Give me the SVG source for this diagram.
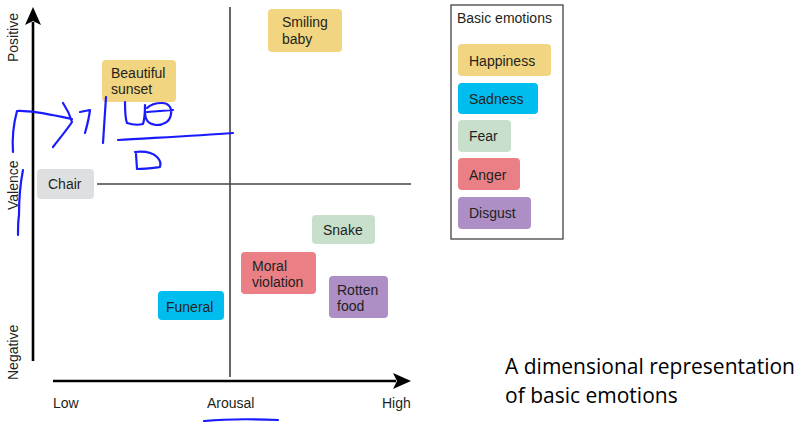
<svg xmlns="http://www.w3.org/2000/svg" width="798" height="422" viewBox="0 0 798 422">
<style>
text{font-family:"Liberation Sans",Arial,sans-serif;font-size:14px;fill:#231f20}
.cap{font-family:"Open Sans","Noto Sans",sans-serif;font-size:21px;fill:#000}
.ink{fill:none;stroke:#1a1aff;stroke-width:2.2;stroke-linecap:round;stroke-linejoin:round}
.happy{fill:#f1d580}.sad{fill:#00bdf0}.fear{fill:#c8dfcc}.anger{fill:#ea7f86}.disgust{fill:#ad8fc5}.neutral{fill:#dedfe0}
</style>
<rect width="798" height="422" fill="#fff"/>
<g id="axes">
<line x1="230" y1="7" x2="230" y2="377" stroke="#000" stroke-width="1.2"/>
<line x1="97" y1="184" x2="411" y2="184" stroke="#444" stroke-width="1.4"/>
<line x1="33" y1="361" x2="33" y2="22" stroke="#000" stroke-width="2.6"/>
<path d="M33,7 L41,25 L33,21 L25,25 Z" fill="#000"/>
<line x1="53" y1="381" x2="396" y2="381" stroke="#000" stroke-width="2.6"/>
<path d="M411,381 L393,373 L397,381 L393,389 Z" fill="#000"/>
<text transform="translate(18,62) rotate(-90)">Positive</text>
<text transform="translate(18,210) rotate(-90)">Valence</text>
<text transform="translate(18,380) rotate(-90)">Negative</text>
<text x="53" y="408">Low</text>
<text x="207" y="408">Arousal</text>
<text x="382" y="408">High</text>
</g>
<g id="smiling-baby"><rect class="happy" x="268" y="9" width="74" height="43" rx="4"/><text x="282" y="27">Smiling</text><text x="282" y="44">baby</text></g>
<g id="beautiful-sunset"><rect class="happy" x="102" y="60" width="74" height="42" rx="4"/><text x="111" y="78">Beautiful</text><text x="111" y="94">sunset</text></g>
<g id="chair"><rect class="neutral" x="37" y="169" width="57" height="30" rx="4"/><text x="48" y="189">Chair</text></g>
<g id="snake"><rect class="fear" x="312" y="215" width="63" height="29" rx="4"/><text x="323" y="235">Snake</text></g>
<g id="moral-violation"><rect class="anger" x="241" y="252" width="75" height="42" rx="4"/><text x="252" y="271">Moral</text><text x="252" y="287">violation</text></g>
<g id="rotten-food"><rect class="disgust" x="329" y="276" width="59" height="42" rx="4"/><text x="337" y="295">Rotten</text><text x="337" y="311">food</text></g>
<g id="funeral"><rect class="sad" x="158" y="291" width="66" height="29" rx="4"/><text x="166" y="312">Funeral</text></g>
<g id="legend">
<rect x="451" y="5" width="112" height="234" fill="#fff" stroke="#333" stroke-width="1.2"/>
<text x="457" y="23">Basic emotions</text>
<g id="legend-happiness"><rect class="happy" x="458" y="44" width="93" height="32" rx="4"/><text x="469" y="66">Happiness</text></g>
<g id="legend-sadness"><rect class="sad" x="458" y="83" width="80" height="31" rx="4"/><text x="469" y="104">Sadness</text></g>
<g id="legend-fear"><rect class="fear" x="458" y="120" width="53" height="32" rx="4"/><text x="469" y="141">Fear</text></g>
<g id="legend-anger"><rect class="anger" x="458" y="158" width="62" height="32" rx="4"/><text x="469" y="180">Anger</text></g>
<g id="legend-disgust"><rect class="disgust" x="458" y="197" width="73" height="32" rx="4"/><text x="469" y="218">Disgust</text></g>
</g>
<g id="caption">
<text class="cap" x="505" y="374">A dimensional representation</text>
<text class="cap" x="505" y="403">of basic emotions</text>
</g>
<g id="ink">
<path class="ink" d="M13,152 C12,138 14,122 17,111 C32,110 52,115 72,119"/>
<path class="ink" d="M63,103 C67,109 70,115 72,122 C66,131 59,139 53,147"/>
<path class="ink" d="M80,112 L90,110 C89,118 87,126 85,133"/>
<path class="ink" d="M106,97 C105,112 104,128 103,143"/>
<path class="ink" d="M125,102 C125,110 125,118 127,123 C133,125 139,125 143,124 C145,118 145,111 145,105 M145,112 C145,119 147,124 156,125 C163,125 170,122 171,114 C172,107 168,103 162,103 C156,103 150,105 147,108 M147,112 L173,110"/>
<path class="ink" d="M118,140 C150,138 195,136 233,133"/>
<path class="ink" d="M135,152 C145,151 152,152 157,157 C160,160 161,164 160,167 C152,168 145,169 137,169 L136,154"/>
<path class="ink" d="M23,170 C20,185 19,200 19,215 C18,222 18,229 18,235"/>
<path class="ink" d="M204,421 C225,419 255,419 278,420"/>
</g>
</svg>
